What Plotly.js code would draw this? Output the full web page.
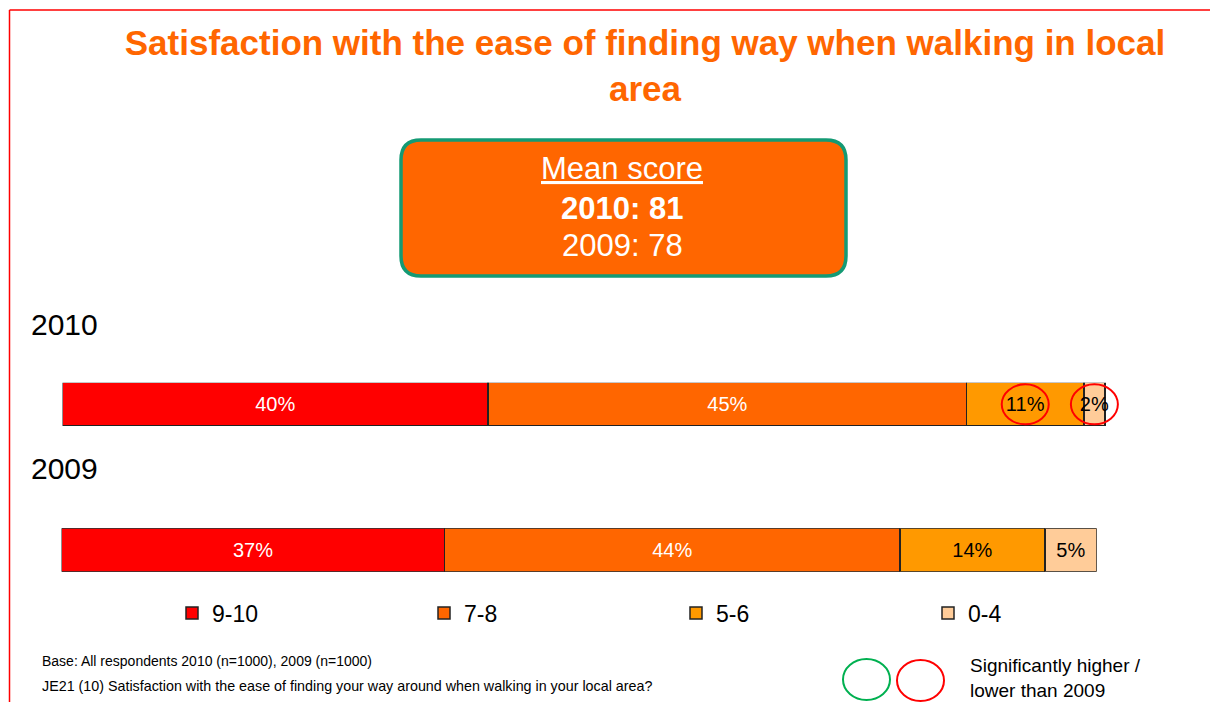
<!DOCTYPE html>
<html>
<head>
<meta charset="utf-8">
<script src="https://cdn.plot.ly/plotly-3.0.1.min.js"></script>
<style>
  html, body { margin: 0; padding: 0; background: #ffffff; }
  #chart { width: 1210px; height: 702px; }
</style>
</head>
<body>
<div id="chart"></div>
<script>
// ---- data ----
const categories = ['9-10', '7-8', '5-6', '0-4'];
const years = ['2010', '2009'];
const values2010 = [40, 45, 11, 2];
const values2009 = [37, 44, 14, 5];
// significance vs previous year: 0 = none, -1 = significantly lower, 1 = significantly higher
const sig2010 = [0, 0, -1, -1];
const meanScore2010 = 81;
const meanScore2009 = 78;
const chartTitle = 'Satisfaction with the ease of finding way when walking in local<br>area';
const baseNote = 'Base: All respondents 2010 (n=1000), 2009 (n=1000)';
const questionNote = 'JE21 (10) Satisfaction with the ease of finding your way around when walking in your local area?';
const sigLegendText = 'Significantly higher /<br>lower than 2009';

// ---- styles ----
const FONT = 'Liberation Sans, Arial, Helvetica, sans-serif';
const segColors = ['#FF0000', '#FF6600', '#FF9900', '#FFCC99'];
const segTextColors = ['#FFFFFF', '#FFFFFF', '#000000', '#000000'];
const W = 1210, H = 702;
const px = v => v / W;
const py = v => 1 - v / H;

// y domains of the two bar rows (paper)
const row1 = [py(426), py(382.7)];
const row2 = [py(571.7), py(528.3)];

const traces = [];
const series = [values2010, values2009];
series.forEach((vals, s) => {
  categories.forEach((cat, i) => {
    traces.push({
      type: 'bar',
      orientation: 'h',
      name: cat,
      legendgroup: cat,
      showlegend: s === 0,
      x: [vals[i]],
      y: [years[s]],
      width: [1],
      xaxis: s === 0 ? 'x' : 'x2',
      yaxis: s === 0 ? 'y' : 'y2',
      marker: { color: segColors[i], line: { color: '#222222', width: 1.5 } },
      text: [vals[i] + '%'],
      textposition: 'inside',
      insidetextanchor: 'middle',
      constraintext: 'none',
      cliponaxis: false,
      textangle: 0,
      insidetextfont: { family: FONT, size: 20, color: segTextColors[i] },
      hoverinfo: 'skip'
    });
  });
});

// significance circles placed at segment centres (x in data coords)
const shapes = [];
let cum = 0;
values2010.forEach((v, i) => {
  const mid = cum + v / 2;
  cum += v;
  if (sig2010[i] !== 0) {
    shapes.push({
      type: 'circle', xref: 'x', yref: 'paper',
      xsizemode: 'pixel', ysizemode: 'pixel',
      xanchor: mid, yanchor: (row1[0] + row1[1]) / 2,
      x0: -23.5, x1: 23.5, y0: -20, y1: 20,
      line: { color: sig2010[i] < 0 ? '#FF0000' : '#00B050', width: 2 },
      fillcolor: 'rgba(0,0,0,0)'
    });
  }
});

// rounded mean score box
(function () {
  const x0 = px(401), x1 = px(846), yt = py(140), yb = py(276);
  const rx = 20 / W, ry = 20 / H;
  const path = `M${x0 + rx},${yt} L${x1 - rx},${yt} Q${x1},${yt} ${x1},${yt - ry} ` +
    `L${x1},${yb + ry} Q${x1},${yb} ${x1 - rx},${yb} L${x0 + rx},${yb} Q${x0},${yb} ${x0},${yb + ry} ` +
    `L${x0},${yt - ry} Q${x0},${yt} ${x0 + rx},${yt} Z`;
  shapes.push({ type: 'path', xref: 'paper', yref: 'paper', path: path,
    fillcolor: '#FF6600', line: { color: '#149A74', width: 3.5 } });
})();

// frame lines (top and left)
shapes.push({ type: 'line', xref: 'paper', yref: 'paper', x0: px(9.5), x1: 1, y0: py(10), y1: py(10), line: { color: '#FF0000', width: 1.5 } });
shapes.push({ type: 'line', xref: 'paper', yref: 'paper', x0: px(9.5), x1: px(9.5), y0: py(10), y1: 0, line: { color: '#FF0000', width: 1.5 } });

// significance key ellipses
shapes.push({ type: 'circle', xref: 'paper', yref: 'paper', x0: px(843), x1: px(890), y0: py(700), y1: py(659), line: { color: '#00B050', width: 2 } });
shapes.push({ type: 'circle', xref: 'paper', yref: 'paper', x0: px(897), x1: px(944), y0: py(701), y1: py(660), line: { color: '#FF0000', width: 2 } });

const annotations = [
  { text: years[0], x: px(29), y: py(324), xref: 'paper', yref: 'paper', xanchor: 'left', yanchor: 'middle', showarrow: false, font: { family: FONT, size: 30, color: '#000' } },
  { text: years[1], x: px(29), y: py(468), xref: 'paper', yref: 'paper', xanchor: 'left', yanchor: 'middle', showarrow: false, font: { family: FONT, size: 30, color: '#000' } },
  { text: '<u>Mean score</u>', x: px(622), y: py(168), xref: 'paper', yref: 'paper', xanchor: 'center', yanchor: 'middle', showarrow: false, font: { family: FONT, size: 31, color: '#FFFFFF' } },
  { text: '<b>' + years[0] + ': ' + meanScore2010 + '</b>', x: px(622), y: py(208), xref: 'paper', yref: 'paper', xanchor: 'center', yanchor: 'middle', showarrow: false, font: { family: FONT, size: 31, color: '#FFFFFF' } },
  { text: years[1] + ': ' + meanScore2009, x: px(622), y: py(246), xref: 'paper', yref: 'paper', xanchor: 'center', yanchor: 'middle', showarrow: false, font: { family: FONT, size: 31, color: '#FFFFFF' } },
  { text: baseNote, x: px(40), y: py(661), xref: 'paper', yref: 'paper', xanchor: 'left', yanchor: 'middle', showarrow: false, font: { family: FONT, size: 14, color: '#000' } },
  { text: questionNote, x: px(40), y: py(686), xref: 'paper', yref: 'paper', xanchor: 'left', yanchor: 'middle', showarrow: false, font: { family: FONT, size: 14.3, color: '#000' } },
  { text: sigLegendText, x: px(968), y: py(678), xref: 'paper', yref: 'paper', xanchor: 'left', yanchor: 'middle', align: 'left', showarrow: false, font: { family: FONT, size: 19, color: '#000' } }
];

const layout = {
  width: W, height: H,
  margin: { l: 0, r: 0, t: 0, b: 0 },
  paper_bgcolor: '#FFFFFF', plot_bgcolor: 'rgba(0,0,0,0)',
  barmode: 'stack',
  title: {
    text: '<b>' + chartTitle + '</b>',
    x: px(645), xanchor: 'center', xref: 'paper',
    y: py(55), yanchor: 'top', yref: 'container',
    font: { family: FONT, size: 35, color: '#FF6600' }
  },
  // 2010 row: 10.638 px per percentage point
  xaxis: { domain: [px(62.5), px(62.5 + 100 * 10.638)], range: [0, 100], visible: false, fixedrange: true },
  yaxis: { domain: row1, range: [-0.5, 0.5], type: 'category', visible: false, fixedrange: true },
  // 2009 row: 10.352 px per percentage point
  xaxis2: { domain: [px(61.5), px(1096.7)], range: [0, 100], visible: false, anchor: 'y2', fixedrange: true },
  yaxis2: { domain: row2, range: [-0.5, 0.5], type: 'category', visible: false, anchor: 'x2', fixedrange: true },
  showlegend: true,
  legend: {
    orientation: 'h', traceorder: 'normal',
    x: px(172), xanchor: 'left', y: py(613), yanchor: 'middle',
    entrywidthmode: 'pixels', entrywidth: 207,
    font: { family: FONT, size: 23, color: '#000' },
    bgcolor: 'rgba(0,0,0,0)', borderwidth: 0
  },
  shapes: shapes,
  annotations: annotations,
  hovermode: false
};

Plotly.newPlot('chart', traces, layout, { displayModeBar: false, staticPlot: true });
</script>
</body>
</html>
